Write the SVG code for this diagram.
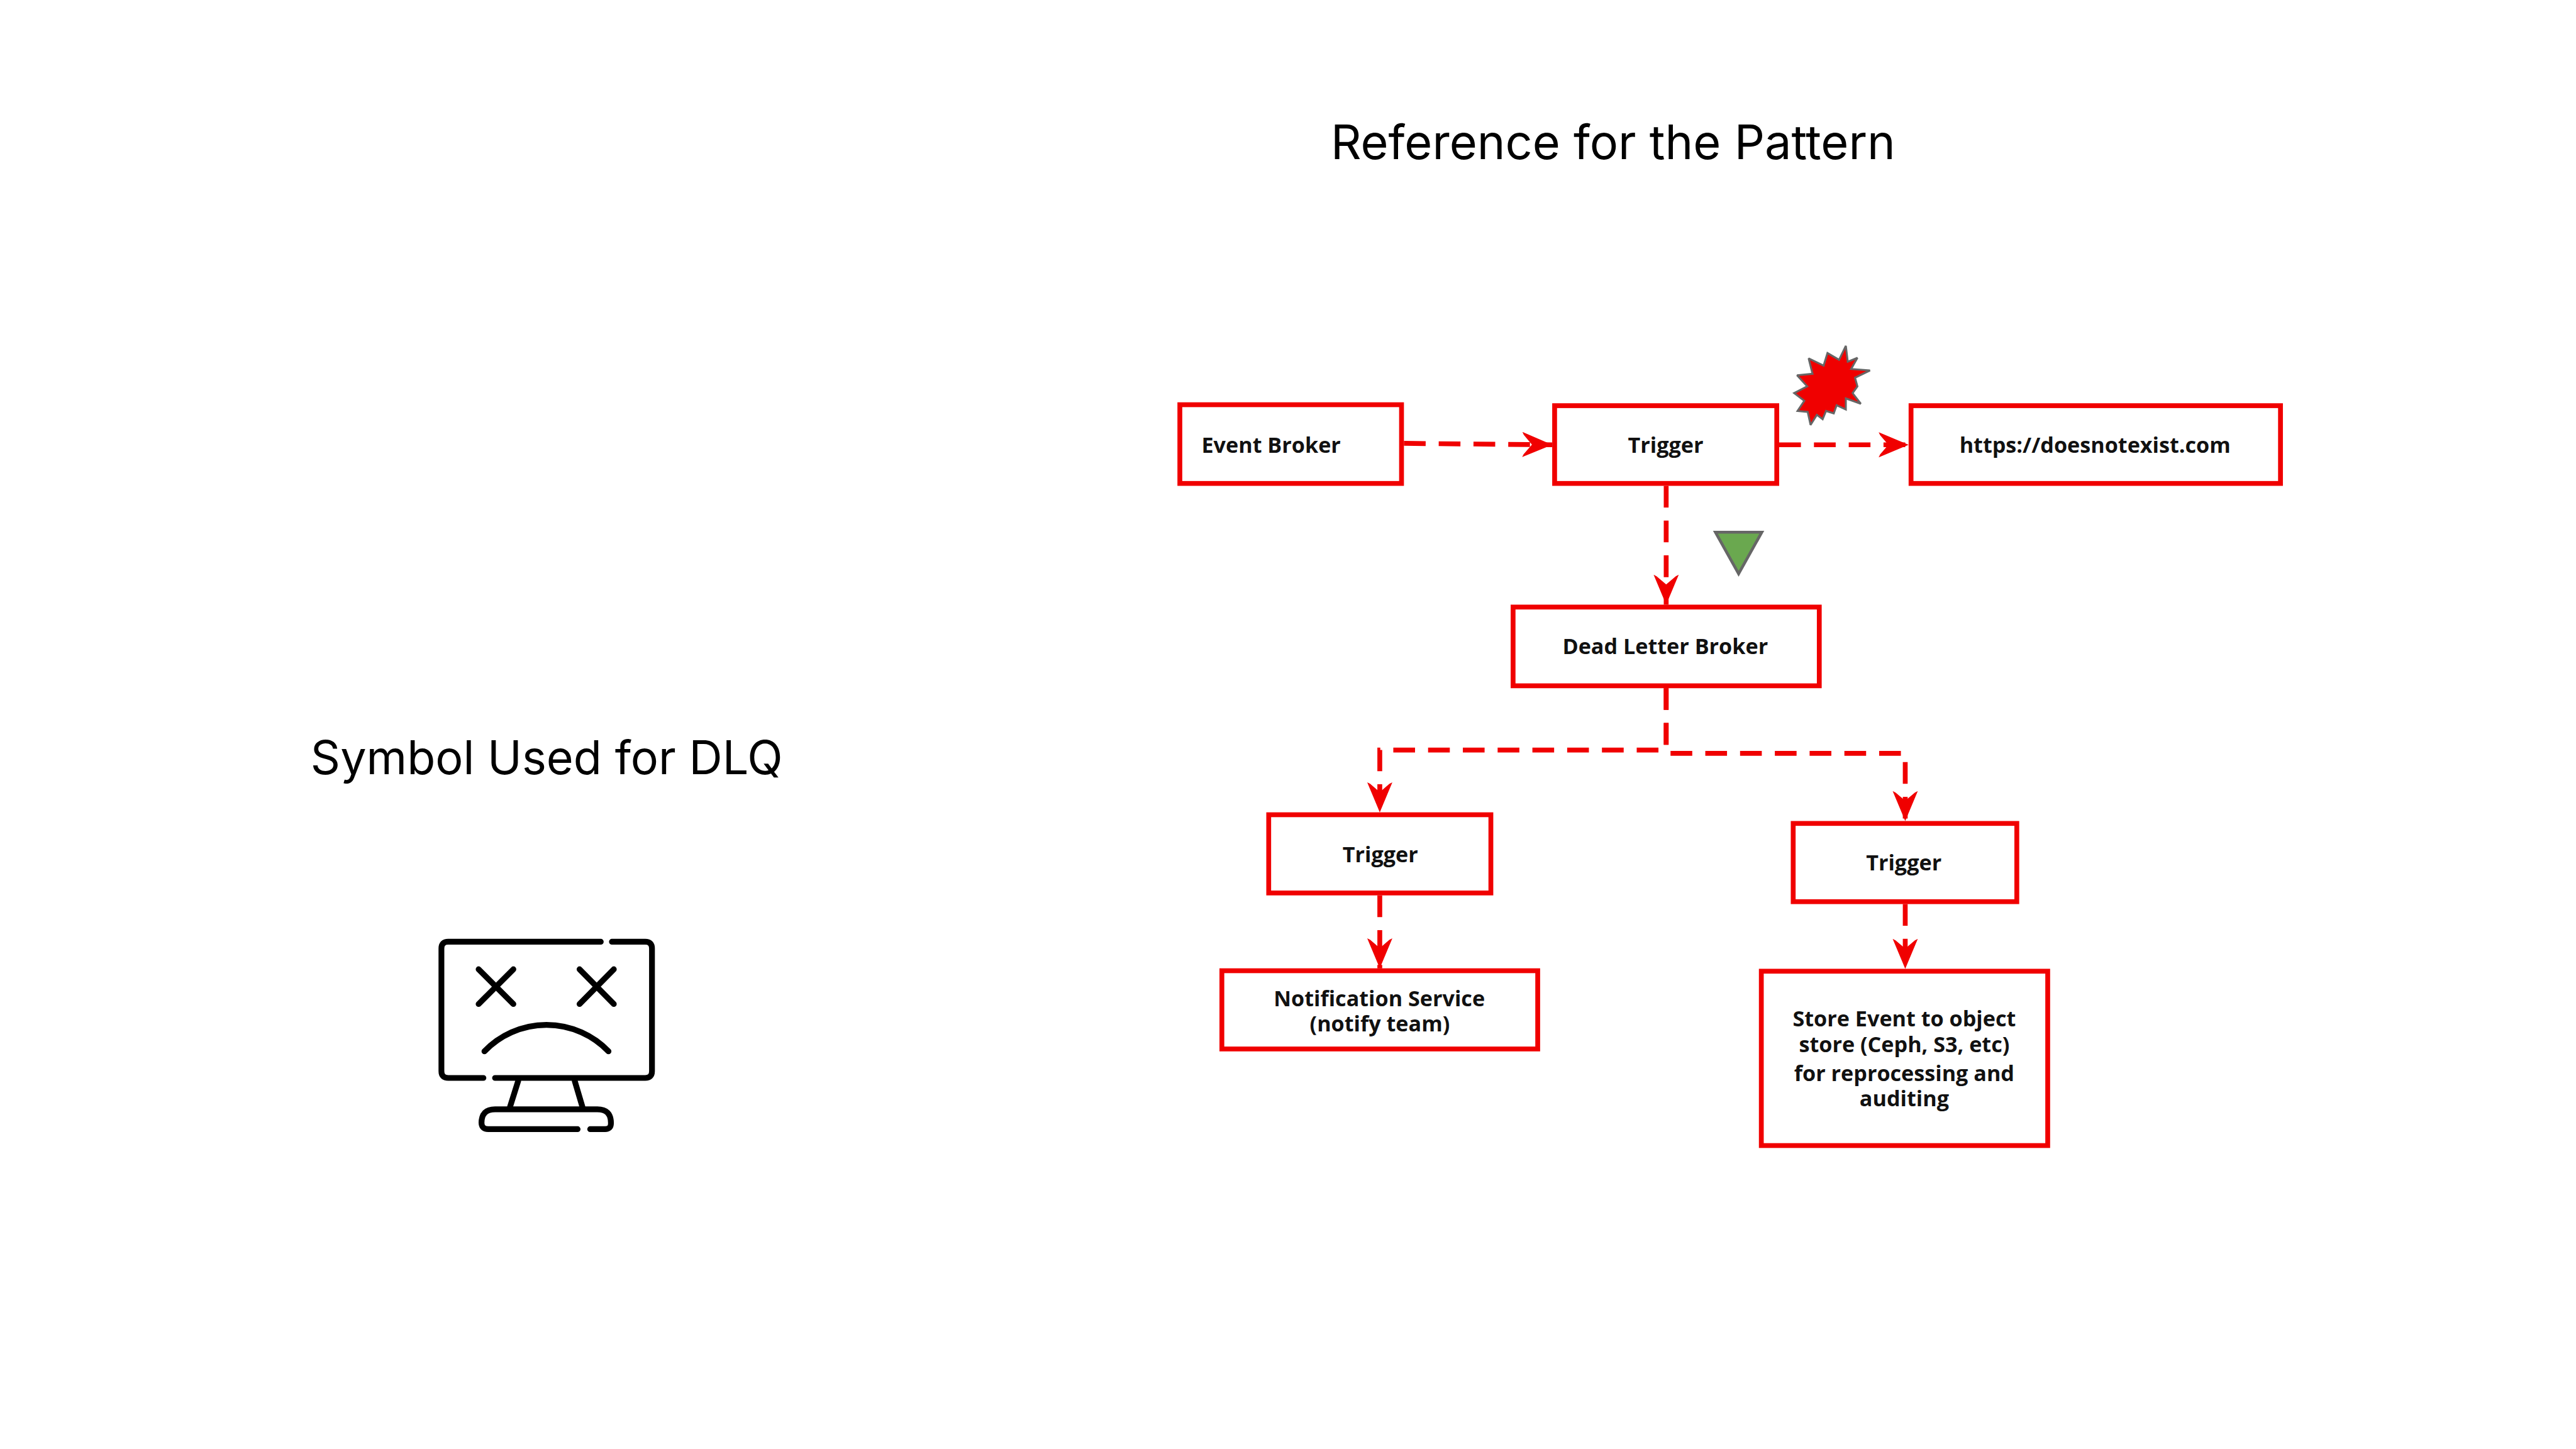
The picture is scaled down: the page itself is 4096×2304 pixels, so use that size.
<svg xmlns="http://www.w3.org/2000/svg" width="4096" height="2304" viewBox="0 0 4096 2304">
<style>
.box{fill:#fff;stroke:#f00000;stroke-width:10}
.lbl{font-family:"Open Sans","Liberation Sans",sans-serif;font-weight:700;font-size:44.5px;fill:#111;text-anchor:middle}
.title{font-family:"Inter","Liberation Sans",sans-serif;font-size:98.5px;fill:#000;text-anchor:middle}
.conn{fill:none;stroke:#f00000;stroke-width:10;stroke-dasharray:45 27;marker-end:url(#arr)}
.ic{fill:none;stroke:#000;stroke-width:12;stroke-linecap:round;stroke-linejoin:round}
</style>
<defs>
<marker id="arr" markerUnits="userSpaceOnUse" viewBox="0 -30 70 60" markerWidth="70" markerHeight="60" refX="62" refY="0" orient="auto">
<path d="M62 0L0 -26L3 -20L20 0L3 20L0 26Z" fill="#f00000"/>
</marker>
</defs>
<g transform="scale(0.76792)">
<rect width="5334" height="3000" fill="#fff"/>
<text id="title-pattern" class="title" x="3340" y="330">Reference for the Pattern</text>
<text id="title-symbol" class="title" x="1132" y="1603" style="font-size:96px">Symbol Used for DLQ</text>
<g id="connectors">
<path class="conn" d="M2907 918L3214 921"/>
<path class="conn" d="M3684 921L3952 921"/>
<path class="conn" d="M3450 1006V1252"/>
<path class="conn" d="M3450 1425V1553H2857V1682"/>
<path class="conn" d="M3450 1425V1560H3945V1700"/>
<path class="conn" d="M2857 1854V2005"/>
<path class="conn" d="M3945 1872V2006"/>
</g>
<g id="node-event-broker"><rect class="box" x="2443" y="838" width="459" height="163"/><text class="lbl" x="2632" y="937">Event Broker</text></g>
<g id="node-trigger-main"><rect class="box" x="3219" y="840" width="460" height="161"/><text class="lbl" x="3449" y="937">Trigger</text></g>
<g id="node-url"><rect class="box" x="3957" y="840" width="765" height="161"/><text class="lbl" x="4338" y="937">https://doesnotexist.com</text></g>
<g id="node-dead-letter"><rect class="box" x="3133" y="1257" width="634" height="163"/><text class="lbl" x="3448" y="1354">Dead Letter Broker</text></g>
<g id="node-trigger-left"><rect class="box" x="2627" y="1687" width="460" height="162"/><text class="lbl" x="2858" y="1785">Trigger</text></g>
<g id="node-trigger-right"><rect class="box" x="3713" y="1705" width="463" height="162"/><text class="lbl" x="3942" y="1802">Trigger</text></g>
<g id="node-notification"><rect class="box" x="2530" y="2010" width="654" height="162"/><text class="lbl" x="2856" y="2083">Notification Service</text><text class="lbl" x="2857" y="2136">(notify team)</text></g>
<g id="node-store"><rect class="box" x="3647" y="2011" width="593" height="361"/><text class="lbl" x="3943" y="2125">Store Event to object</text><text class="lbl" x="3943" y="2179">store (Ceph, S3, etc)</text><text class="lbl" x="3943" y="2238">for reprocessing and</text><text class="lbl" x="3943" y="2291">auditing</text></g>
<g id="burst"><path d="M3822 716L3808 745L3784 731L3776 757L3745 742L3753 774L3721 777L3742 800L3715 814L3736 830L3722 851L3743 853L3749 880L3762 859L3774 868L3781 851L3797 856L3803 839L3822 848L3822 825L3853 836L3836 814L3846 800L3841 782L3872 767L3833 764L3846 741L3826 749Z" fill="#f00000" stroke="#666" stroke-width="4" stroke-miterlimit="2"/></g>
<g id="triangle"><path d="M3552 1102H3648L3600 1188Z" fill="#6aa84f" stroke="#666" stroke-width="6" stroke-miterlimit="3"/></g>
<g id="dlq-icon" class="ic">
<path d="M1244 1950H928Q914 1950 914 1964V2218Q914 2232 928 2232H1001"/>
<path d="M1267 1950H1336Q1350 1950 1350 1964V2218Q1350 2232 1336 2232H1025"/>
<path d="M991 2007L1063 2079M1063 2007L991 2079M1200 2007L1271 2079M1271 2007L1200 2079"/>
<path d="M1003 2177A178 178 0 0 1 1260 2177"/>
<path d="M1073 2238L1056 2292M1190 2238L1206 2292"/>
<path d="M1196 2338H1011Q997 2338 997 2324V2325Q997 2297 1025 2297H1237Q1265 2297 1265 2325V2326Q1265 2338 1253 2338H1222"/>
</g>
</g>
</svg>
